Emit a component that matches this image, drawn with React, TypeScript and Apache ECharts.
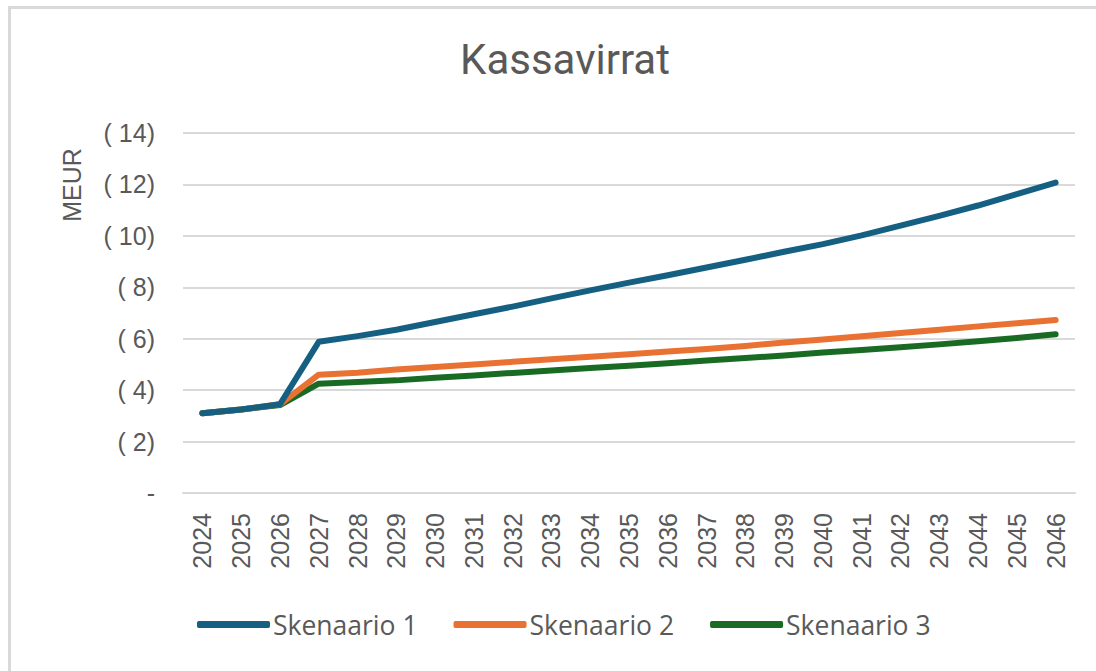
import React, { useEffect, useRef } from "react";
import * as echarts from "echarts";

const years = ["2024","2025","2026","2027","2028","2029","2030","2031","2032","2033","2034","2035","2036","2037","2038","2039","2040","2041","2042","2043","2044","2045","2046"];
const skenaario1 = [3.1,3.25,3.45,5.88,6.1,6.35,6.65,6.95,7.25,7.57,7.88,8.18,8.47,8.77,9.07,9.38,9.68,10.02,10.4,10.78,11.18,11.62,12.07];
const skenaario2 = [3.1,3.25,3.45,4.6,4.68,4.8,4.9,5.0,5.1,5.2,5.3,5.4,5.5,5.6,5.72,5.85,5.97,6.1,6.22,6.35,6.48,6.6,6.73];
const skenaario3 = [3.1,3.25,3.42,4.25,4.32,4.38,4.48,4.57,4.67,4.76,4.86,4.95,5.05,5.15,5.25,5.35,5.46,5.56,5.67,5.78,5.9,6.03,6.17];
const seriesNames = ["Skenaario 1","Skenaario 2","Skenaario 3"];
const colors = ["#156082","#E97132","#196B24"];

export default function App() {
  const ref = useRef<HTMLDivElement>(null);
  useEffect(() => {
    if (!ref.current) return;
    const chart = echarts.init(ref.current, null, { renderer: "svg" });
    const data = [skenaario1, skenaario2, skenaario3];
    chart.setOption({
      animation: false,
      backgroundColor: "#ffffff",
      title: {
        text: "Kassavirrat",
        left: 560,
        textAlign: "center",
        top: 33,
        textStyle: { fontFamily: "Roboto, 'Liberation Sans', sans-serif", fontSize: 42, fontWeight: "normal", color: "#595959" },
      },
      graphic: [
        { type: "rect", left: 7, top: 5, shape: { width: 1200, height: 800 }, style: { fill: "none", stroke: "#d9d9d9", lineWidth: 3 }, silent: true },
        { type: "text", x: 72, y: 185, rotation: Math.PI / 2, style: { text: "MEUR", align: "center", verticalAlign: "middle", fontSize: 25, fill: "#595959", fontFamily: "'Liberation Sans', Arial, sans-serif" } },
      ],
      legend: {
        left: 197,
        top: 611,
        padding: 0,
        itemGap: 36,
        itemWidth: 73,
        itemHeight: 7,
        icon: "roundRect",
        textStyle: { fontFamily: "'Open Sans', sans-serif", fontSize: 26.5, color: "#595959", padding: [0, 0, 0, -2] },
        data: seriesNames,
      },
      grid: { left: 183, top: 133, width: 892, height: 360, containLabel: false },
      xAxis: {
        type: "category",
        data: years,
        boundaryGap: true,
        axisLine: { lineStyle: { color: "#d9d9d9", width: 2 } },
        axisTick: { show: false },
        axisLabel: { rotate: 90, margin: 20, fontSize: 25, color: "#595959", fontFamily: "'Liberation Sans', Arial, sans-serif", interval: 0 },
      },
      yAxis: {
        type: "value",
        min: 0,
        max: 14,
        interval: 2,
        axisLine: { show: false },
        axisTick: { show: false },
        splitLine: { lineStyle: { color: "#d9d9d9", width: 2 } },
        axisLabel: {
          margin: 28,
          fontSize: 25,
          color: "#595959",
          fontFamily: "'Liberation Sans', Arial, sans-serif",
          formatter: (v: number) => (v === 0 ? "-" : "( " + v + ")"),
        },
      },
      series: data.map((d, i) => ({
        name: seriesNames[i],
        type: "line",
        data: d,
        showSymbol: false,
        symbol: "none",
        color: colors[i],
        lineStyle: { width: 6, color: colors[i], cap: "round", join: "round" },
        z: 3 - i,
      })),
    });
    return () => chart.dispose();
  }, []);
  return <div ref={ref} style={{ position: "absolute", left: 0, top: 0, width: 1096, height: 671 }} />;
}
